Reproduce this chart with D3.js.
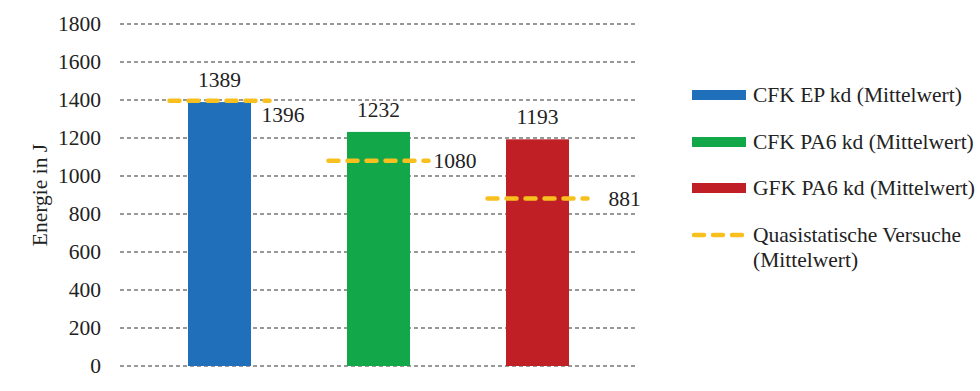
<!DOCTYPE html>
<html>
<head>
<meta charset="utf-8">
<script src="https://cdn.jsdelivr.net/npm/d3@7"></script>
</head>
<body style="margin:0">
<svg id="chart" width="980" height="391"></svg>
<script>
// data
var categories = ["CFK EP kd (Mittelwert)", "CFK PA6 kd (Mittelwert)", "GFK PA6 kd (Mittelwert)"];
var impactValues = [1389, 1232, 1193];
var quasiValues = [1396, 1080, 881];
var barColours = ["#1f6fba", "#12a84a", "#c01f26"];
var quasiLabel = ["Quasistatische Versuche", "(Mittelwert)"];
var yTicks = [0, 200, 400, 600, 800, 1000, 1200, 1400, 1600, 1800];

// label offsets for the quasistatic values (dx from line end, dy from line)
var quasiLabelOffset = [[-8, 21], [5, 7], [21, 7]];

var svg = d3.select("#chart");
var gold = "#f7c01e";
var fontSize = 21.5;
var serif = "Liberation Serif";

var y = d3.scaleLinear().domain([0, 1800]).range([366, 24]);
var x = d3.scaleBand().domain(categories).range([140, 617]);
var band = x.bandwidth();
var barW = 63;

//grid lines
svg.append("g").selectAll("line")
  .data(yTicks)
  .enter().append("line")
  .attr("x1", 120).attr("x2", 637)
  .attr("y1", function(d){ return y(d); })
  .attr("y2", function(d){ return y(d); })
  .attr("stroke", "#333")
  .attr("stroke-width", 1.2)
  .attr("stroke-dasharray", "4,3");

// y axis labels via d3 axis
var yAxis = svg.append("g")
  .attr("transform", "translate(101,0)")
  .call(d3.axisLeft(y).tickValues(yTicks).tickSize(0).tickPadding(0).tickFormat(d3.format("d")));
yAxis.select(".domain").remove();
yAxis.attr("font-family", serif).attr("font-size", fontSize);
yAxis.selectAll("text").attr("fill", "#222").attr("font-family", serif);

svg.append("text")
  .attr("transform", "translate(47,195) rotate(-90)")
  .attr("text-anchor", "middle")
  .attr("font-family", serif)
  .attr("font-size", fontSize)
  .attr("fill", "#222")
  .text("Energie in J");

//bars
var cx = function(d){ return x(d) + band / 2; };
svg.append("g").selectAll("rect")
  .data(categories)
  .enter().append("rect")
  .attr("x", function(d){ return cx(d) - barW / 2; })
  .attr("width", barW)
  .attr("y", function(d, i){ return y(impactValues[i]); })
  .attr("height", function(d, i){ return y(0) - y(impactValues[i]); })
  .attr("fill", function(d, i){ return barColours[i]; });

// value labels above bars
svg.append("g").selectAll("text")
  .data(categories)
  .enter().append("text")
  .attr("x", function(d){ return cx(d); })
  .attr("y", function(d, i){ return y(impactValues[i]) - 15; })
  .attr("text-anchor", "middle")
  .attr("font-family", serif)
  .attr("font-size", fontSize)
  .attr("fill", "#222")
  .text(function(d, i){ return impactValues[i]; });

// quasistatic dashed lines
var halfLine = 50;
svg.append("g").selectAll("line")
  .data(categories)
  .enter().append("line")
  .attr("x1", function(d){ return cx(d) - halfLine; })
  .attr("x2", function(d){ return cx(d) + halfLine; })
  .attr("y1", function(d, i){ return y(quasiValues[i]); })
  .attr("y2", function(d, i){ return y(quasiValues[i]); })
  .attr("stroke", gold)
  .attr("stroke-width", 4.5)
  .attr("stroke-linecap", "round")
  .attr("stroke-dasharray", "10,9");

svg.append("g").selectAll("text")
  .data(categories)
  .enter().append("text")
  .attr("x", function(d, i){ return cx(d) + halfLine + quasiLabelOffset[i][0]; })
  .attr("y", function(d, i){ return y(quasiValues[i]) + quasiLabelOffset[i][1]; })
  .attr("font-family", serif)
  .attr("font-size", fontSize)
  .attr("fill", "#222")
  .text(function(d, i){ return quasiValues[i]; });

// legend
var legend = svg.append("g").attr("transform", "translate(692,0)");
var legY = [95, 142, 188];
categories.forEach(function(c, i){
  legend.append("rect")
    .attr("x", 0).attr("y", legY[i] - 5)
    .attr("width", 54).attr("height", 10)
    .attr("fill", barColours[i]);
  legend.append("text")
    .attr("x", 61).attr("y", legY[i] + 7)
    .attr("font-family", serif)
    .attr("font-size", fontSize)
    .attr("fill", "#222")
    .text(c);
});
legend.append("line")
  .attr("x1", 2).attr("x2", 54)
  .attr("y1", 235).attr("y2", 235)
  .attr("stroke", gold)
  .attr("stroke-width", 4.5)
  .attr("stroke-linecap", "round")
  .attr("stroke-dasharray", "10,9");
legend.append("text")
  .attr("x", 61).attr("y", 242)
  .attr("font-family", serif)
  .attr("font-size", fontSize)
  .attr("fill", "#222")
  .selectAll("tspan")
  .data(quasiLabel)
  .enter().append("tspan")
  .attr("x", 61)
  .attr("dy", function(d, i){ return i === 0 ? 0 : 25; })
  .text(function(d){ return d; });
</script>
</body>
</html>
